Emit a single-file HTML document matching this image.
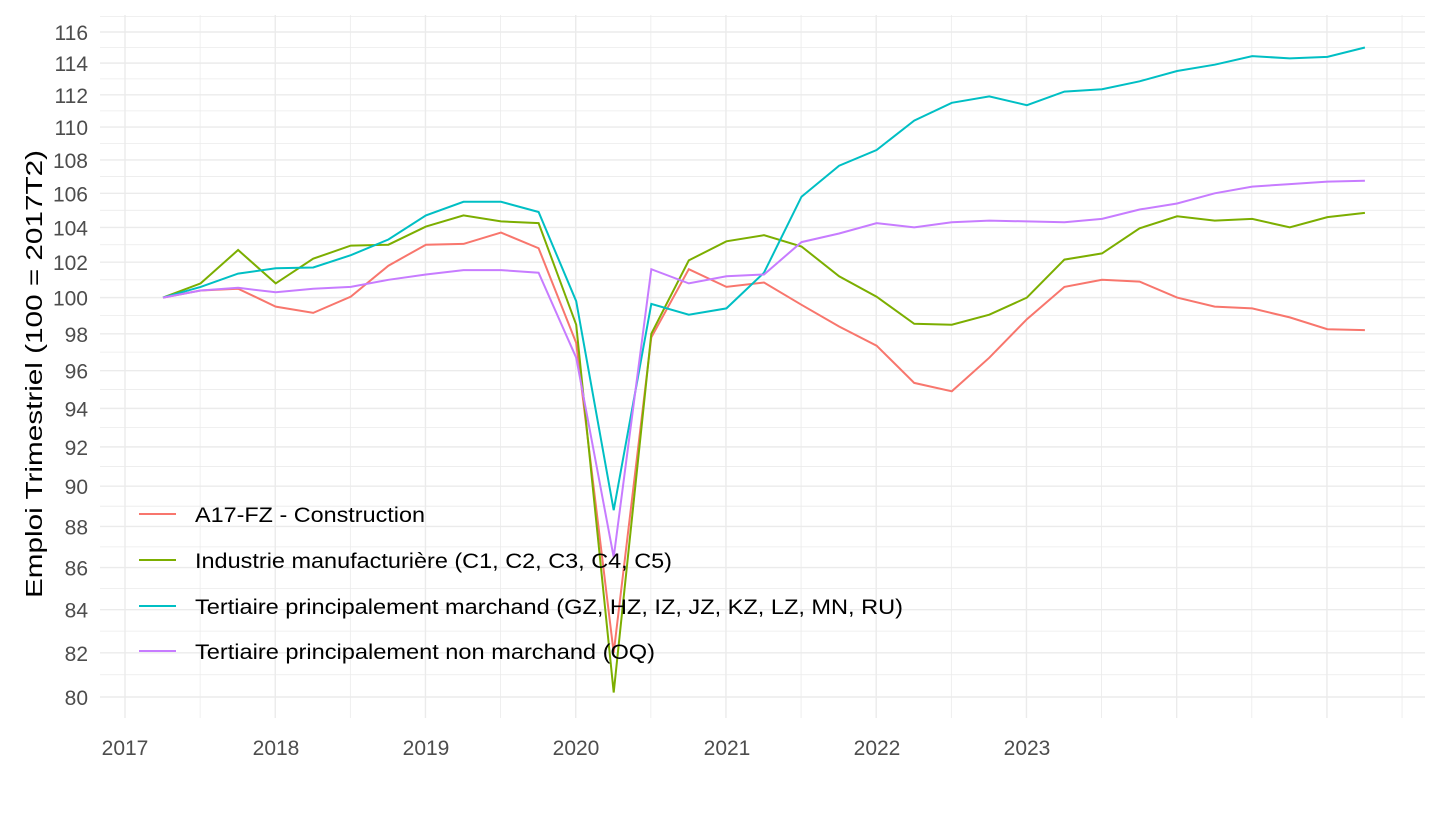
<!DOCTYPE html>
<html><head><meta charset="utf-8"><style>
body{margin:0;background:#fff}
svg text{font-family:"Liberation Sans",Arial,sans-serif}
</style></head><body>
<svg id="s" width="1440" height="810" xmlns="http://www.w3.org/2000/svg">
<g id="grid"></g>
<g id="lines" fill="none" stroke-width="2"></g>
<g font-size="21" fill="#4d4d4d" text-anchor="end" id="yl"></g>
<g font-size="21" fill="#4d4d4d" text-anchor="middle">
<text x="125" y="755">2017</text>
<text x="276" y="755">2018</text>
<text x="426" y="755">2019</text>
<text x="576" y="755">2020</text>
<text x="727" y="755">2021</text>
<text x="877" y="755">2022</text>
<text x="1027" y="755">2023</text>
</g>
<text transform="translate(42,374) rotate(-90)" font-size="23" text-anchor="middle" textLength="448" lengthAdjust="spacingAndGlyphs" fill="#000">Emploi Trimestriel (100 = 2017T2)</text>
<g font-size="21" fill="#000">
<line x1="139" x2="176" y1="514" y2="514" stroke="#F8766D" stroke-width="2"/>
<text x="195" y="522" textLength="230" lengthAdjust="spacingAndGlyphs">A17-FZ - Construction</text>
<line x1="139" x2="176" y1="560" y2="560" stroke="#7CAE00" stroke-width="2"/>
<text x="195" y="568" textLength="477" lengthAdjust="spacingAndGlyphs">Industrie manufacturière (C1, C2, C3, C4, C5)</text>
<line x1="139" x2="176" y1="606" y2="606" stroke="#00BFC4" stroke-width="2"/>
<text x="195" y="614" textLength="708" lengthAdjust="spacingAndGlyphs">Tertiaire principalement marchand (GZ, HZ, IZ, JZ, KZ, LZ, MN, RU)</text>
<line x1="139" x2="176" y1="651" y2="651" stroke="#C77CFF" stroke-width="2"/>
<text x="195" y="659" textLength="460" lengthAdjust="spacingAndGlyphs">Tertiaire principalement non marchand (OQ)</text>
</g>
</svg>
<script>
var K=665/Math.log10(116/80);
var Y=v=>697-K*Math.log10(v/80), X=i=>163+i*37.56;
var g=document.getElementById('grid'),h='';
for(var v=79;v<=117;v++){var y=Y(v);if(y<15||y>718)continue;h+='<line x1="100" x2="1425" y1="'+y+'" y2="'+y+'" stroke="#ebebeb" stroke-width="'+(v%2?0.8:1.4)+'"/>';}
for(var k=0;k<=17;k++){var x=125+k*75.12;if(x>1425)break;h+='<line y1="15" y2="718" x1="'+x+'" x2="'+x+'" stroke="#ebebeb" stroke-width="'+(k%2?0.8:1.4)+'"/>';}
g.innerHTML=h;
var yl='';for(var v=80;v<=116;v+=2)yl+='<text x="88" y="'+(Y(v)+8)+'">'+v+'</text>';
document.getElementById('yl').innerHTML=yl;
var D={
"#F8766D":[100,100.4,100.5,99.5,99.15,100.05,101.8,103,103.05,103.7,102.8,97.5,82,97.8,101.6,100.6,100.85,99.6,98.4,97.35,95.35,94.9,96.7,98.8,100.6,101,100.9,100,99.5,99.4,98.9,98.25,98.2],
"#7CAE00":[100,100.8,102.7,100.8,102.2,102.95,103,104.05,104.7,104.35,104.25,98.5,80.2,98,102.1,103.2,103.55,102.9,101.2,100.05,98.55,98.5,99.05,100,102.15,102.5,103.95,104.65,104.4,104.5,104,104.6,104.85],
"#00BFC4":[100,100.6,101.35,101.65,101.7,102.4,103.3,104.7,105.5,105.5,104.9,99.8,88.8,99.65,99.05,99.4,101.4,105.8,107.65,108.6,110.4,111.5,111.9,111.35,112.2,112.35,112.85,113.5,113.9,114.45,114.3,114.4,115],
"#C77CFF":[100,100.4,100.55,100.3,100.5,100.6,101,101.3,101.55,101.55,101.4,96.7,86.5,101.6,100.8,101.2,101.3,103.15,103.65,104.25,104,104.3,104.4,104.35,104.3,104.5,105.05,105.4,106,106.4,106.55,106.7,106.75]};
var l='';for(var c in D){l+='<polyline stroke="'+c+'" points="'+D[c].map((v,i)=>X(i).toFixed(1)+','+Y(v).toFixed(1)).join(' ')+'"/>';}
document.getElementById('lines').innerHTML=l;
</script>
</body></html>
